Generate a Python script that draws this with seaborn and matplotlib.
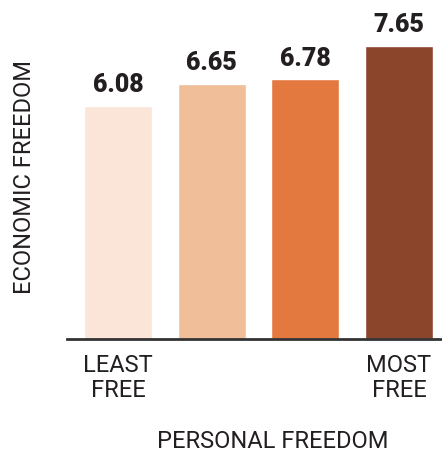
import numpy as np
import pandas as pd
import matplotlib
matplotlib.use('Agg')
import matplotlib.pyplot as plt
import seaborn as sns

# Data
groups = ['Q1', 'Q2', 'Q3', 'Q4']
econ_freedom = [6.08, 6.65, 6.78, 7.65]
tick_labels = ['LEAST\nFREE', '', '', 'MOST\nFREE']
bar_colors = ['#FAE5D8', '#F1BE9A', '#E3793E', '#8B452A']

sns.set_style('white')
plt.rcParams['font.family'] = ['Roboto', 'DejaVu Sans']

df = pd.DataFrame({'group': groups, 'value': econ_freedom})

fig = plt.figure(figsize=(4.42, 4.53), dpi=100)
ax = fig.add_axes([67 / 442, 1 - 339 / 453, 375 / 442, 339 / 453])

sns.barplot(data=df, x='group', y='value', hue='group', palette=bar_colors,
            width=0.726, legend=False, ax=ax, saturation=1)

ax.set_xlim(-0.545, 3.46)
ax.set_ylim(0, 8.85)

for i, v in enumerate(econ_freedom):
    ax.text(i, v + 0.36, f'{v:.2f}', ha='center', va='baseline',
            fontsize=18, fontweight='heavy', color='#231f20')

for s in ['top', 'right', 'left']:
    ax.spines[s].set_visible(False)
ax.spines['bottom'].set_color('#333333')
ax.spines['bottom'].set_linewidth(2)

ax.set_yticks([])
ax.set_xticks(range(len(groups)))
ax.set_xticklabels(tick_labels, fontsize=17, fontweight='normal',
                   color='#231f20', linespacing=1.12)
ax.tick_params(axis='x', length=0, pad=11)
ax.set_xlabel('')
ax.set_ylabel('')

fig.text(272.5 / 442, 1 - 448 / 453, 'PERSONAL FREEDOM', ha='center',
         va='baseline', fontsize=17, fontweight='normal', color='#231f20')
fig.text(25 / 442, 1 - 176.5 / 453, 'ECONOMIC FREEDOM', ha='center',
         va='center', rotation=90, fontsize=17, fontweight='normal',
         color='#231f20')

fig.savefig('out.png', dpi=100)
